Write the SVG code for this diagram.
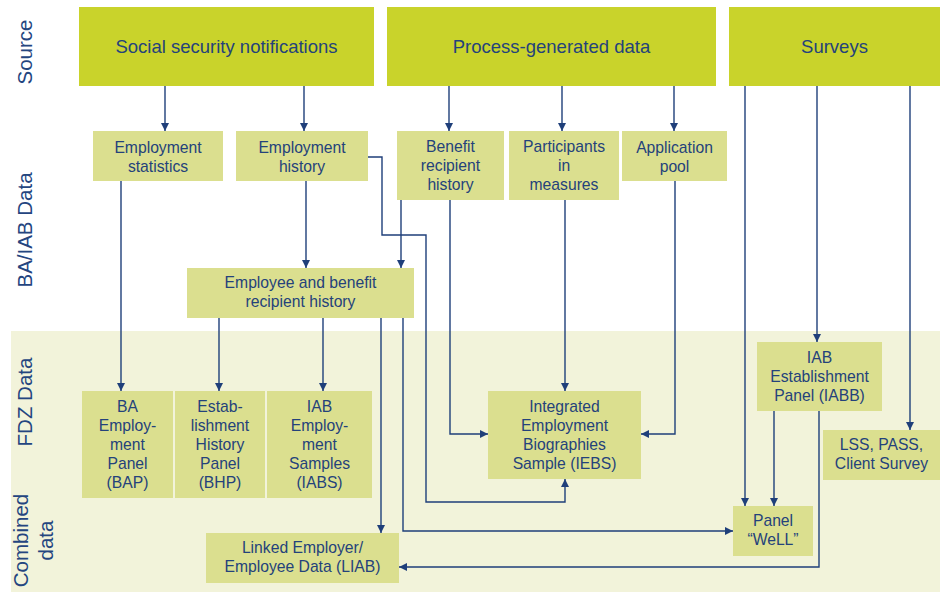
<svg xmlns="http://www.w3.org/2000/svg" width="940" height="592" viewBox="0 0 940 592">
<style>
.src{fill:#c9d32b}
.box{fill:#dbdf8f}
.t{font-family:"Liberation Sans",Arial,sans-serif;fill:#24427b;text-anchor:middle}
.tl{font-size:18.5px}
.ts{font-size:15.7px}
.side{font-family:"Liberation Sans",Arial,sans-serif;fill:#24457f;font-size:20.5px;text-anchor:middle}
.c{fill:none;stroke:#1f3f7a;stroke-width:1.4}
.a{marker-end:url(#ah)}
</style>
<defs>
<marker id="ah" markerUnits="userSpaceOnUse" markerWidth="8" markerHeight="8" refX="8" refY="4" orient="auto">
<path d="M0,0 L8,4 L0,8 z" fill="#1f3f7a"/>
</marker>
</defs>
<rect x="0" y="0" width="940" height="592" fill="#ffffff"/>
<rect x="11" y="331" width="929" height="261" fill="#f2f3da"/>

<g id="labels">
<text class="side" transform="translate(32,52) rotate(-90)">Source</text>
<text class="side" transform="translate(32,230) rotate(-90)">BA/IAB Data</text>
<text class="side" transform="translate(32,402) rotate(-90)">FDZ Data</text>
<text class="side" transform="translate(27.5,540.5) rotate(-90)">Combined</text>
<text class="side" transform="translate(52.5,540.5) rotate(-90)">data</text>
</g>

<g id="connectors">
<path class="c a" d="M165,86 V131"/>
<path class="c a" d="M304,86 V131"/>
<path class="c a" d="M449,86 V131"/>
<path class="c a" d="M562,86 V131"/>
<path class="c a" d="M674,86 V131"/>
<path class="c a" d="M121,181 V391"/>
<path class="c a" d="M306,181 V268"/>
<path class="c a" d="M401,200 V268"/>
<path class="c a" d="M368,157 H382 V235 H426 V502 H565 V479"/>
<path class="c a" d="M450,200 V434 H488"/>
<path class="c a" d="M565,200 V391"/>
<path class="c a" d="M675,181 V434 H641"/>
<path class="c a" d="M219,318 V391"/>
<path class="c a" d="M323,318 V391"/>
<path class="c a" d="M381,318 V533"/>
<path class="c a" d="M403,318 V531 H733"/>
<path class="c a" d="M745,86 V506"/>
<path class="c a" d="M817,86 V342"/>
<path class="c a" d="M910,86 V430"/>
<path class="c a" d="M774,411 V506"/>
<path class="c a" d="M819,411 V567 H399"/>
</g>

<g id="src_ssn"><rect class="src" x="79" y="7" width="295" height="79"/><text class="t tl" x="226.5" y="53">Social security notifications</text></g>
<g id="src_pgd"><rect class="src" x="387" y="7" width="329" height="79"/><text class="t tl" x="551.5" y="53">Process-generated data</text></g>
<g id="src_surveys"><rect class="src" x="729" y="7" width="211" height="79"/><text class="t tl" x="834.5" y="53">Surveys</text></g>

<g id="emp_stat"><rect class="box" x="93" y="131" width="130" height="50"/><text class="t ts" x="158" y="152.5">Employment<tspan x="158" dy="19">statistics</tspan></text></g>
<g id="emp_hist"><rect class="box" x="236" y="131" width="132" height="50"/><text class="t ts" x="302" y="152.5">Employment<tspan x="302" dy="19">history</tspan></text></g>
<g id="ben_hist"><rect class="box" x="397" y="131" width="107" height="69"/><text class="t ts" x="450.5" y="152">Benefit<tspan x="450.5" dy="19">recipient</tspan><tspan x="450.5" dy="19">history</tspan></text></g>
<g id="participants"><rect class="box" x="509" y="131" width="110" height="69"/><text class="t ts" x="564" y="152">Participants<tspan x="564" dy="19">in</tspan><tspan x="564" dy="19">measures</tspan></text></g>
<g id="app_pool"><rect class="box" x="622" y="131" width="105" height="50"/><text class="t ts" x="674.5" y="152.5">Application<tspan x="674.5" dy="19">pool</tspan></text></g>

<g id="ebrh"><rect class="box" x="187" y="268" width="227" height="50"/><text class="t ts" x="300.5" y="288">Employee and benefit<tspan x="300.5" dy="19">recipient history</tspan></text></g>

<g id="bap"><rect class="box" x="82" y="391" width="91" height="107"/><text class="t ts" x="127.5" y="412">BA<tspan x="127.5" dy="19">Employ-</tspan><tspan x="127.5" dy="19">ment</tspan><tspan x="127.5" dy="19">Panel</tspan><tspan x="127.5" dy="19">(BAP)</tspan></text></g>
<g id="bhp"><rect class="box" x="175" y="391" width="90" height="107"/><text class="t ts" x="220" y="412">Estab-<tspan x="220" dy="19">lishment</tspan><tspan x="220" dy="19">History</tspan><tspan x="220" dy="19">Panel</tspan><tspan x="220" dy="19">(BHP)</tspan></text></g>
<g id="iabs"><rect class="box" x="267" y="391" width="105" height="107"/><text class="t ts" x="319.5" y="412">IAB<tspan x="319.5" dy="19">Employ-</tspan><tspan x="319.5" dy="19">ment</tspan><tspan x="319.5" dy="19">Samples</tspan><tspan x="319.5" dy="19">(IABS)</tspan></text></g>
<g id="iebs"><rect class="box" x="488" y="391" width="153" height="88"/><text class="t ts" x="564.5" y="412">Integrated<tspan x="564.5" dy="19">Employment</tspan><tspan x="564.5" dy="19">Biographies</tspan><tspan x="564.5" dy="19">Sample (IEBS)</tspan></text></g>
<g id="iabb"><rect class="box" x="757" y="342" width="125" height="69"/><text class="t ts" x="819.5" y="363">IAB<tspan x="819.5" dy="19">Establishment</tspan><tspan x="819.5" dy="19">Panel (IABB)</tspan></text></g>
<g id="lss"><rect class="box" x="823" y="430" width="117" height="50"/><text class="t ts" x="881.5" y="450">LSS, PASS,<tspan x="881.5" dy="19">Client Survey</tspan></text></g>
<g id="well"><rect class="box" x="733" y="506" width="80" height="50"/><text class="t ts" x="773" y="526">Panel<tspan x="773" dy="19">“WeLL”</tspan></text></g>
<g id="liab"><rect class="box" x="206" y="533" width="193" height="50"/><text class="t ts" x="302.5" y="553">Linked Employer/<tspan x="302.5" dy="19">Employee Data (LIAB)</tspan></text></g>
</svg>
